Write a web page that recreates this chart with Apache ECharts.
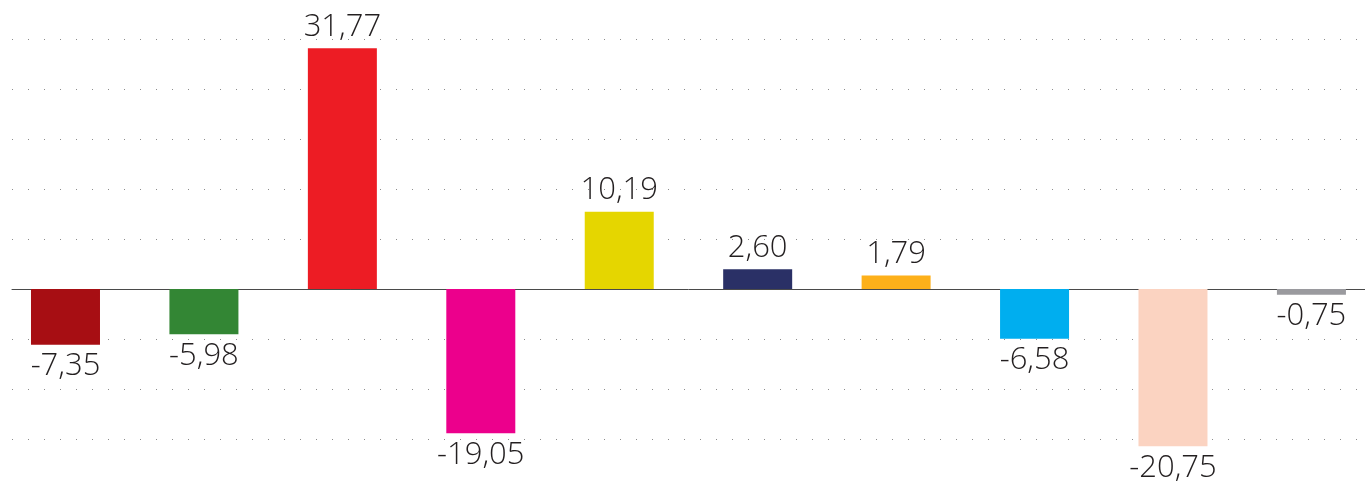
<!DOCTYPE html>
<html>
<head>
<meta charset="utf-8">
<script src="https://cdn.jsdelivr.net/npm/echarts@6/dist/echarts.min.js"></script>
<style>
  html, body { margin: 0; padding: 0; background: #fff; }
  #chart { width: 1365px; height: 482px; }
</style>
</head>
<body>
<div id="chart"></div>
<script>
// 10 columns, no names shown on the axis
const categories = ['1', '2', '3', '4', '5', '6', '7', '8', '9', '10']
const values = [-7.35, -5.98, 31.77, -19.05, 10.19, 2.60, 1.79, -6.58, -20.75, -0.75]
const colors = ['#a70e13', '#338634', '#ed1c24', '#ec008c', '#e5d600', '#2a3066', '#fdb01a', '#00aeef', '#fbd3c1', '#9a9a9e']

const yMin = -19.8
const yMax = 33
const yStep = 6.6

const chart = echarts.init(document.getElementById('chart'))

const fmt = v => v.toFixed(2).replace('.', ',')

chart.setOption({
  animation: false,
  grid: { left: 12, right: 0, top: 39, bottom: 43 },
  xAxis: {
    // column index on a value axis so the outer columns sit where they do in the picture
    type: 'value',
    min: -0.3864,
    max: 9.387,
    axisLine: { show: true, onZero: true, lineStyle: { color: '#4a4a4a', width: 1 } },
    axisTick: { show: false },
    axisLabel: { show: false },
    splitLine: { show: false }
  },
  yAxis: {
    type: 'value',
    min: yMin,
    max: yMax,
    interval: yStep,
    axisLine: { show: false },
    axisTick: { show: false },
    axisLabel: { show: false },
    splitLine: {
      show: true,
      lineStyle: { color: '#8c8c8c', width: 1, type: [1, 15] }
    }
  },
  series: [{
    type: 'bar',
    barWidth: 69,
    clip: false,
    data: values.map((v, i) => ({
      name: categories[i],
      value: [i, v],
      itemStyle: { color: colors[i] },
      label: { position: v < 0 ? 'bottom' : 'top' }
    })),
    label: {
      show: true,
      distance: 6,
      fontFamily: 'Open Sans',
      fontWeight: 300,
      fontSize: 31,
      color: '#231f20',
      formatter: p => fmt(p.value[1])
    }
  }]
})
</script>
</body>
</html>
